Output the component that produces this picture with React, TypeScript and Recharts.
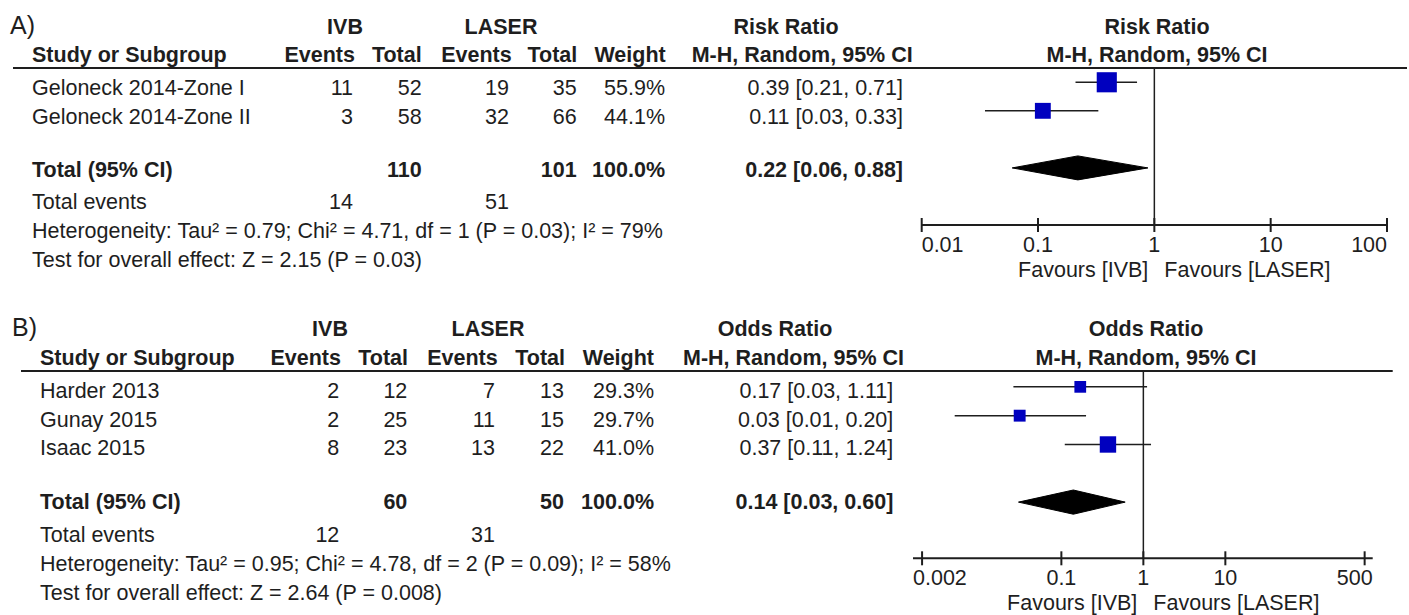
import React from "react";
import { ScatterChart, Scatter, XAxis, YAxis, ReferenceLine } from "recharts";

// ---- Panel A: Risk Ratio ----
const studiesA = ["Geloneck 2014-Zone I", "Geloneck 2014-Zone II"];
const ivbEventsA = [11, 3];
const ivbTotalA = [52, 58];
const laserEventsA = [19, 32];
const laserTotalA = [35, 66];
const weightsA = [55.9, 44.1];
const ratioA = [0.39, 0.11];
const lowA = [0.21, 0.035];
const highA = [0.71, 0.33];
const ciTextA = ["0.39 [0.21, 0.71]", "0.11 [0.03, 0.33]"];
const totalsA = [110, 101];
const pooledA = [0.06, 0.22, 0.88];
const pooledTextA = "0.22 [0.06, 0.88]";
const totalEventsA = [14, 51];
const hetA = "Heterogeneity: Tau² = 0.79; Chi² = 4.71, df = 1 (P = 0.03); I² = 79%";
const overallA = "Test for overall effect: Z = 2.15 (P = 0.03)";
const ticksA = [0.01, 0.1, 1, 10, 100];

// ---- Panel B: Odds Ratio ----
const studiesB = ["Harder 2013", "Gunay 2015", "Isaac 2015"];
const ivbEventsB = [2, 2, 8];
const ivbTotalB = [12, 25, 23];
const laserEventsB = [7, 11, 13];
const laserTotalB = [13, 15, 22];
const weightsB = [29.3, 29.7, 41.0];
const ratioB = [0.17, 0.031, 0.37];
const lowB = [0.026, 0.005, 0.11];
const highB = [1.11, 0.2, 1.24];
const ciTextB = ["0.17 [0.03, 1.11]", "0.03 [0.01, 0.20]", "0.37 [0.11, 1.24]"];
const totalsB = [60, 50];
const pooledB = [0.03, 0.14, 0.6];
const pooledTextB = "0.14 [0.03, 0.60]";
const totalEventsB = [12, 31];
const hetB = "Heterogeneity: Tau² = 0.95; Chi² = 4.78, df = 2 (P = 0.09); I² = 58%";
const overallB = "Test for overall effect: Z = 2.64 (P = 0.008)";
const ticksB = [0.002, 0.1, 1, 10, 500];

const INK = "#1e1e1e";
const BLUE = "#0000bf";
const FONT = "'Liberation Sans', Arial, sans-serif";
const FS = 21.5;

const panels = [
  {
    letter: "A)", measure: "Risk Ratio",
    studies: studiesA, ivbEvents: ivbEventsA, ivbTotal: ivbTotalA, laserEvents: laserEventsA,
    laserTotal: laserTotalA, weights: weightsA, ratio: ratioA, low: lowA, high: highA, ciText: ciTextA,
    totals: totalsA, pooled: pooledA, pooledText: pooledTextA, totalEvents: totalEventsA,
    het: hetA, overall: overallA, ticks: ticksA, domain: [0.01, 100],
    rowPos: [0.5, 1.5], pooledPos: 3.5, yMax: 5.5, sq: 0.36,
    chartTop: 0, chartH: 300, plotL: 921.7, plotR: 1387, plotT: 68, plotB: 225,
    letterX: 10, letterY: 25, h1Y: 27, h2Y: 55, rowY: [88, 117], totalY: 170, eventsY: 202,
    hetY: 231, testY: 260, nameX: 32, cols: [353, 421.7, 509, 576.7, 665, 903],
    headCols: [355, 421.7, 511.7, 577.3, 665.7, 912.7], ivbC: 345, laserC: 501, ratioC: 786,
    plotTitleC: 1157, rule: [13, 1407], favY: 270,
  },
  {
    letter: "B)", measure: "Odds Ratio",
    studies: studiesB, ivbEvents: ivbEventsB, ivbTotal: ivbTotalB, laserEvents: laserEventsB,
    laserTotal: laserTotalB, weights: weightsB, ratio: ratioB, low: lowB, high: highB, ciText: ciTextB,
    totals: totalsB, pooled: pooledB, pooledText: pooledTextB, totalEvents: totalEventsB,
    het: hetB, overall: overallB, ticks: ticksB, domain: [0.00155, 627],
    rowPos: [0.55, 1.55, 2.55], pooledPos: 4.55, yMax: 6.5, sq: 0.4,
    chartTop: 300, chartH: 315, plotL: 913, plotR: 1372.7, plotT: 371, plotB: 558.3,
    letterX: 12, letterY: 327, h1Y: 329, h2Y: 358, rowY: [390.7, 420, 448.3], totalY: 502.3, eventsY: 535,
    hetY: 564, testY: 592.7, nameX: 40, cols: [339.3, 407.3, 495, 564, 654, 893.3],
    headCols: [341, 408, 497.7, 565, 654, 904], ivbC: 330, laserC: 488, ratioC: 775,
    plotTitleC: 1146, rule: [21, 1392.7], favY: 603,
  },
];

type P = (typeof panels)[number];

function T(props: any) {
  const { bold, size, ...rest } = props;
  return (
    <text
      fill={INK}
      fontFamily={FONT}
      fontSize={size ?? FS}
      fontWeight={bold ? "bold" : "normal"}
      dominantBaseline="central"
      {...rest}
    />
  );
}

function PanelText({ p }: { p: P }) {
  const refX = p.plotL + ((Math.log10(1) - Math.log10(p.domain[0])) / (Math.log10(p.domain[1]) - Math.log10(p.domain[0]))) * (p.plotR - p.plotL);
  const heads = ["Events", "Total", "Events", "Total", "Weight", "M-H, Random, 95% CI"];
  return (
    <g>
      <T x={p.letterX} y={p.letterY} size={25}>{p.letter}</T>
      <T x={p.ivbC} y={p.h1Y} bold textAnchor="middle">IVB</T>
      <T x={p.laserC} y={p.h1Y} bold textAnchor="middle">LASER</T>
      <T x={p.ratioC} y={p.h1Y} bold textAnchor="middle">{p.measure}</T>
      <T x={p.plotTitleC} y={p.h1Y} bold textAnchor="middle">{p.measure}</T>
      <T x={p.nameX} y={p.h2Y} bold>Study or Subgroup</T>
      {heads.map((h, i) => (
        <T key={i} x={p.headCols[i]} y={p.h2Y} bold textAnchor="end">{h}</T>
      ))}
      <T x={p.plotTitleC} y={p.h2Y} bold textAnchor="middle">M-H, Random, 95% CI</T>
      <line x1={p.rule[0]} x2={p.rule[1]} y1={p.plotT} y2={p.plotT} stroke={INK} strokeWidth={2} />
      {p.studies.map((s, i) => {
        const vals = [p.ivbEvents[i], p.ivbTotal[i], p.laserEvents[i], p.laserTotal[i], p.weights[i].toFixed(1) + "%", p.ciText[i]];
        return (
          <g key={s}>
            <T x={p.nameX} y={p.rowY[i]}>{s}</T>
            {vals.map((v, j) => (
              <T key={j} x={p.cols[j]} y={p.rowY[i]} textAnchor="end">{v}</T>
            ))}
          </g>
        );
      })}
      <T x={p.nameX} y={p.totalY} bold>Total (95% CI)</T>
      <T x={p.cols[1]} y={p.totalY} bold textAnchor="end">{p.totals[0]}</T>
      <T x={p.cols[3]} y={p.totalY} bold textAnchor="end">{p.totals[1]}</T>
      <T x={p.cols[4]} y={p.totalY} bold textAnchor="end">100.0%</T>
      <T x={p.cols[5]} y={p.totalY} bold textAnchor="end">{p.pooledText}</T>
      <T x={p.nameX} y={p.eventsY}>Total events</T>
      <T x={p.cols[0]} y={p.eventsY} textAnchor="end">{p.totalEvents[0]}</T>
      <T x={p.cols[2]} y={p.eventsY} textAnchor="end">{p.totalEvents[1]}</T>
      <T x={p.nameX} y={p.hetY}>{p.het}</T>
      <T x={p.nameX} y={p.testY}>{p.overall}</T>
      <T x={refX - 6} y={p.favY} textAnchor="end">Favours [IVB]</T>
      <T x={refX + 10} y={p.favY}>Favours [LASER]</T>
    </g>
  );
}

function makeTick(p: P) {
  return (props: any) => {
    const { x, y, payload, index } = props;
    const n = p.ticks.length;
    const anchor = index === 0 ? "start" : index === n - 1 ? "end" : "middle";
    const tx = index === 0 ? p.plotL : index === n - 1 ? p.plotR : x;
    return (
      <g>
        <line x1={x} x2={x} y1={y - 7} y2={y + 7} stroke={INK} strokeWidth={2} />
        <T x={tx} y={y + 20} textAnchor={anchor}>{String(payload.value)}</T>
      </g>
    );
  };
}

function ForestPanel({ p }: { p: P }) {
  const axisH = 40;
  const points = p.studies.map((s, i) => ({ x: p.ratio[i], y: p.rowPos[i], w: p.weights[i] }));
  const [lo, est, hi] = p.pooled;
  const yc = p.pooledPos;
  const diamond = [
    { x: lo, y: yc },
    { x: est, y: yc - 0.42 },
    { x: hi, y: yc },
    { x: est, y: yc + 0.42 },
    { x: lo, y: yc },
  ];
  const square = (props: any) => {
    const s = props.payload.w * p.sq;
    return <rect x={props.cx - s / 2} y={props.cy - s / 2} width={s} height={s} fill={BLUE} />;
  };
  return (
    <div style={{ position: "absolute", left: 0, top: p.chartTop }}>
      <ScatterChart
        width={1409}
        height={p.chartH}
        margin={{
          top: p.plotT - p.chartTop,
          bottom: p.chartTop + p.chartH - p.plotB - axisH,
          left: p.plotL,
          right: 1409 - p.plotR,
        }}
      >
        <XAxis
          type="number"
          dataKey="x"
          scale="log"
          domain={p.domain}
          allowDataOverflow
          ticks={p.ticks}
          interval={0}
          height={axisH}
          tickSize={0}
          tickMargin={0}
          tickLine={false}
          axisLine={{ stroke: INK, strokeWidth: 2 }}
          tick={makeTick(p)}
        />
        <YAxis type="number" dataKey="y" domain={[0, p.yMax]} reversed hide allowDataOverflow />
        <ReferenceLine x={1} stroke={INK} strokeWidth={1.5} />
        {p.studies.map((s, i) => (
          <ReferenceLine
            key={s}
            segment={[
              { x: p.low[i], y: p.rowPos[i] },
              { x: p.high[i], y: p.rowPos[i] },
            ]}
            stroke={INK}
            strokeWidth={1.5}
          />
        ))}
        <Scatter data={points} shape={square} isAnimationActive={false} />
        <Scatter
          data={diamond}
          shape={() => <g />}
          line={{ fill: "#000", stroke: "#000", strokeWidth: 1 }}
          isAnimationActive={false}
        />
      </ScatterChart>
    </div>
  );
}

export default function App() {
  return (
    <div style={{ position: "absolute", left: 0, top: 0, width: 1409, height: 615, background: "#fff" }}>
      {panels.map((p) => (
        <ForestPanel key={p.letter} p={p} />
      ))}
      <svg width={1409} height={615} style={{ position: "absolute", left: 0, top: 0, pointerEvents: "none" }}>
        {panels.map((p) => (
          <PanelText key={p.letter} p={p} />
        ))}
      </svg>
    </div>
  );
}
